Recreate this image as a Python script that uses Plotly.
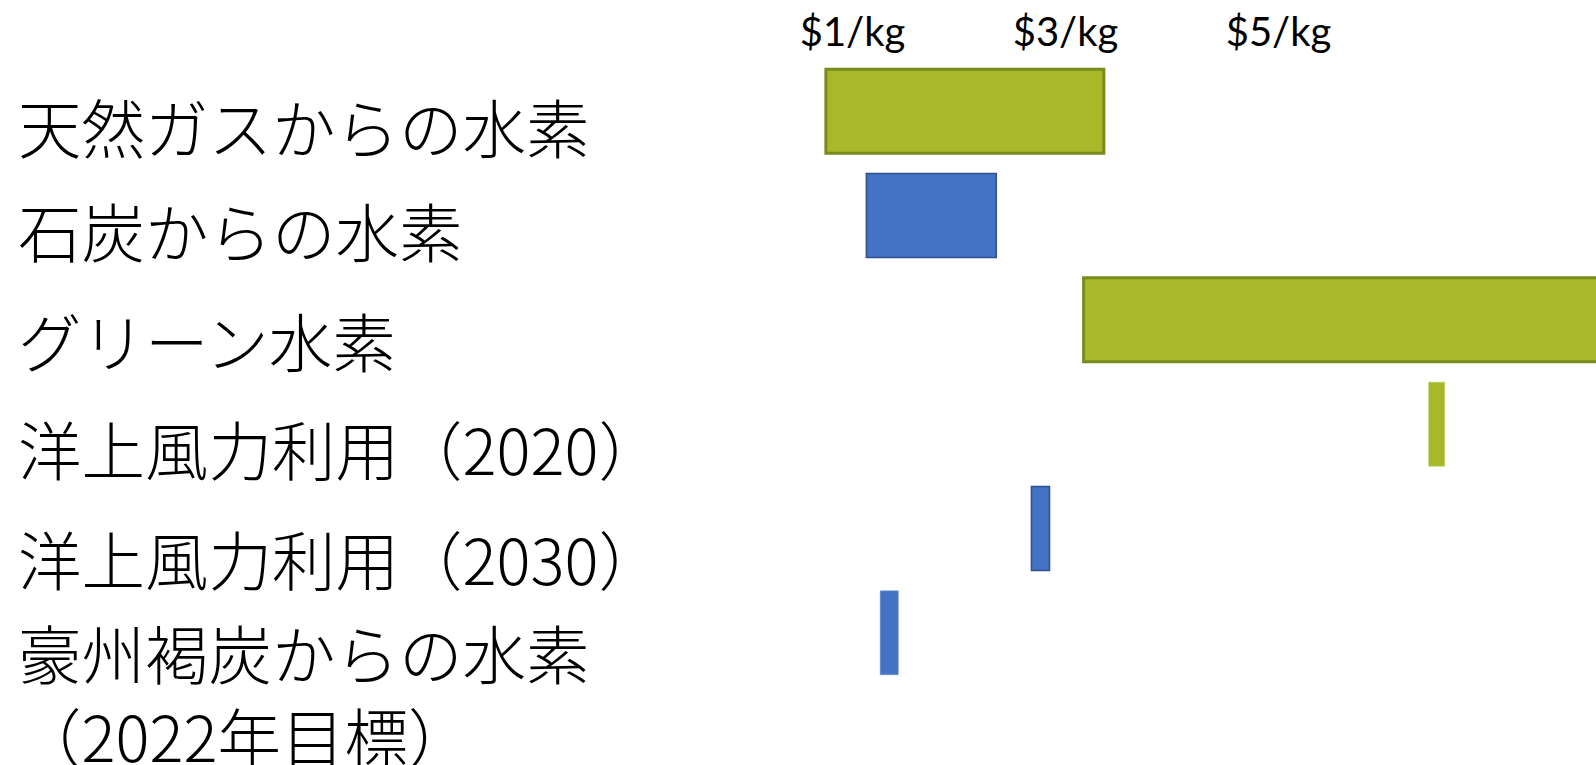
import plotly.graph_objects as go

# ---- data ----
categories = [
    "天然ガスからの水素",
    "石炭からの水素",
    "グリーン水素",
    "洋上風力利用（2020）",
    "洋上風力利用（2030）",
    "豪州褐炭からの水素<br>（2022年目標）",
]
cost_low = [0.75, 1.13, 3.17, 6.41, 2.68, 1.26]    # $/kg
cost_high = [3.36, 2.35, 8.50, 6.56, 2.85, 1.43]   # $/kg
tick_values = [1, 3, 5]
tick_labels = ["$1/kg", "$3/kg", "$5/kg"]

# ---- styles ----
OLIVE = "#A7B829"
BLUE = "#4472C4"
bar_colors = [OLIVE, BLUE, OLIVE, OLIVE, BLUE, BLUE]
line_colors = ["#7A8A1C", "#2F528F", "#7A8A1C", "#B9C85A", "#2F528F", "#6E90D0"]
line_widths = [3, 1.5, 3, 0.5, 1.5, 0.5]

W, H = 1596, 765
M_T, M_B = 59, 80
label_px = [125, 229, 339, 447, 557, 692]  # vertical centres of the row labels (pixels)

fig = go.Figure()
fig.add_trace(go.Bar(
    y=categories,
    x=[h - l for l, h in zip(cost_low, cost_high)],
    base=cost_low,
    orientation="h",
    width=0.805,
    marker=dict(color=bar_colors, line=dict(color=line_colors, width=line_widths)),
    hoverinfo="skip",
))

plot_h = H - M_T - M_B
for cat, py in zip(categories, label_px):
    fig.add_annotation(
        text=cat, xref="paper", yref="paper",
        x=16 / W, y=(H - M_B - py) / plot_h,
        xanchor="left", yanchor="middle", align="left", showarrow=False,
        font=dict(family="Noto Sans CJK JP", size=63.5, color="#000000", weight=300),
    )

px_per_unit = 106.5
x_at_1 = 852.5
fig.update_layout(
    width=W, height=H, autosize=False,
    margin=dict(l=0, r=0, t=M_T, b=M_B, pad=0),
    paper_bgcolor="white", plot_bgcolor="white",
    showlegend=False,
    xaxis=dict(
        side="top", range=[1 - x_at_1 / px_per_unit, 1 + (W - x_at_1) / px_per_unit],
        tickvals=tick_values, ticktext=tick_labels,
        tickfont=dict(family="Lato", size=40, color="#000000"),
        ticklabelstandoff=4,
        showgrid=False, zeroline=False, showline=False, ticks="",
    ),
    yaxis=dict(
        type="category", categoryorder="array", categoryarray=categories,
        range=[5.5, -0.5], showticklabels=False,
        showgrid=False, zeroline=False, showline=False, ticks="",
    ),
)

fig.write_html(
    "out.html",
    config={"displayModeBar": False},
    post_script="document.body.style.margin='0';document.body.style.overflow='hidden';",
)
